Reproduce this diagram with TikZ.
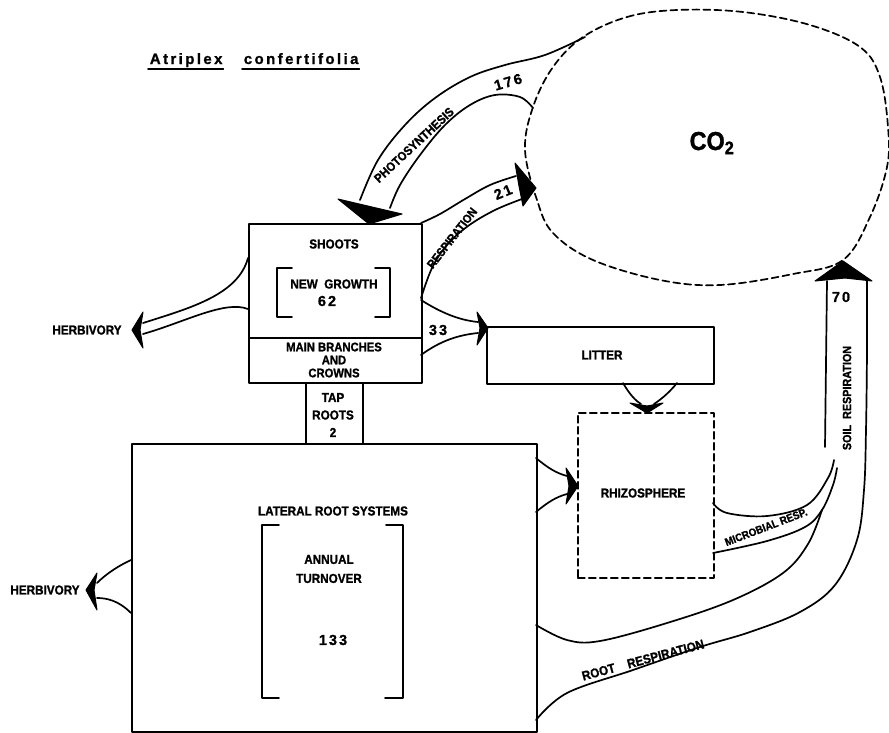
\documentclass[tikz,border=0pt]{standalone}
\usepackage{fontspec}
\setmainfont{Liberation Sans}
\newfontfamily\labfont{Liberation Sans Bold}[FakeStretch=0.9,FakeBold=1.2]
\newfontfamily\titlefont{Liberation Sans Bold}[LetterSpace=16,FakeBold=1]
\newfontfamily\numfont{Liberation Sans Bold}[LetterSpace=14,FakeBold=1]
\begin{document}
\begin{tikzpicture}[x=1pt,y=-1pt,line width=1.7pt,line join=round,line cap=round,
  lab/.style={font=\labfont\fontsize{13}{15}\selectfont,inner sep=0pt,align=center},
  num/.style={font=\numfont\fontsize{14.5}{15}\selectfont,inner sep=0pt},
  pool/.style={draw,inner sep=0pt,anchor=north west},
  dpool/.style={pool,dash pattern=on 7pt off 4pt},
  head/.style={fill=black,draw=black,line width=1pt},
  band/.style={line width=1.7pt}]
\useasboundingbox (0,0) rectangle (889,732);

% ---- title ----
\node[font=\titlefont\fontsize{15}{16}\selectfont,anchor=base west,inner sep=0pt] (gen) at (149,64) {Atriplex};
\node[font=\titlefont\fontsize{15}{16}\selectfont,anchor=base west,inner sep=0pt] (spec) at (243,64) {confertifolia};
\draw (gen.base west) ++(-1,5) coordinate (g1) -- (g1 -| gen.base east);
\draw (spec.base west) ++(-1,5) coordinate (s1) -- (s1 -| spec.base east);

% ---- compartments ----
\node[pool,minimum width=173pt,minimum height=114pt] (shoots) at (248,223) {};
\node[pool,minimum width=173pt,minimum height=45pt] (main) at (248,337) {};
\node[pool,minimum width=57pt,minimum height=61pt] (tap) at (305,382) {};
\node[pool,minimum width=405pt,minimum height=288pt] (lateral) at (131,443) {};
\node[pool,minimum width=227pt,minimum height=57pt] (litter) at (486,326) {};
\node[dpool,minimum width=136pt,minimum height=165pt] (rhizo) at (577,412) {};

% ---- CO2 pool ----
\draw[dash pattern=on 7pt off 4pt] plot[smooth cycle,tension=0.6] coordinates {
  (583,37) (627,17) (677,10) (743,12) (810,25) (860,47) (880,77) (888,127)
  (887,167) (870,217) (843,260) (793,274) (720,285) (660,280) (593,260)
  (553,233) (537,200) (525,150) (533,107) (553,67)};
\node[font=\labfont\fontsize{26}{27}\selectfont,inner sep=0pt] (co2) at (712,143) {CO\textsubscript{2}};

% ---- texts in compartments ----
\node[lab] (shootlbl) at (334,244) {SHOOTS};
\node[lab] (ngl) at (334,284) {NEW\ \ GROWTH};
\node[num] (ngv) at (327,301) {62};
\draw (292,268) -- (277,268) -- (277,317) -- (292,317);
\draw (375,268) -- (390,268) -- (390,317) -- (375,317);
\node[lab,font=\labfont\fontsize{12.5}{13}\selectfont] (mainlbl) at (334,360) {MAIN BRANCHES\\AND\\CROWNS};
\node[lab,font=\labfont\fontsize{13}{17.5}\selectfont] (taplbl) at (333,415) {TAP\\ROOTS\\2};
\node[lab] (latlbl) at (333,511) {LATERAL ROOT SYSTEMS};
\draw (279,525) -- (262,525) -- (262,698) -- (279,698);
\draw (386,525) -- (403,525) -- (403,698) -- (385,698);
\node[lab,font=\labfont\fontsize{13}{19}\selectfont] (turn) at (329,569) {ANNUAL\\TURNOVER};
\node[num] (turnv) at (333,640) {133};
\node[lab] (litlbl) at (602,355) {LITTER};
\node[lab] (rhizolbl) at (643,493) {RHIZOSPHERE};

% ---- photosynthesis 176 ----
\draw[band] plot[smooth,tension=0.6] coordinates {(585,37) (545,55) (505,65) (470,77) (435,98) (405,125) (378,160) (360,200)};
\draw[band] plot[smooth,tension=0.6] coordinates {(533,108) (520,97) (495,95) (470,105) (445,125) (420,155) (400,185) (390,208)};
\coordinate (ptip) at (369,224);
\fill[head] (338,199) -- (ptip) -- (402,214) -- (372,207) -- cycle;
\node[lab,rotate=43,font=\labfont\fontsize{12.5}{13}\selectfont] (photo) at (414,145) {PHOTOSYNTHESIS};
\node[num,rotate=16] (photov) at (508,82) {176};

% ---- respiration 21 ----
\draw[band] plot[smooth,tension=0.6] coordinates {(421,223) (440,214) (465,199) (490,185) (516,176)};
\draw[band] plot[smooth,tension=0.6] coordinates {(421,298) (432,268) (447,245) (468,226) (495,210) (522,199)};
\coordinate (rtip) at (536,188);
\fill[head] (515,163) -- (rtip) -- (523,206) -- (519,186) -- cycle;
\node[lab,rotate=52,font=\labfont\fontsize{12}{13}\selectfont] (resp) at (452,238) {RESPIRATION};
\node[num,rotate=22] (respv) at (503,192) {21};

% ---- litterfall 33 ----
\draw[band] (421,300) .. controls (440,312) and (458,320) .. (478,322);
\draw[band] (421,355) .. controls (440,341) and (458,335) .. (478,333);
\coordinate (ltip) at (488,328);
\fill[head] (477,312) -- (ltip) -- (477,345) -- (480,328) -- cycle;
\node[num] (litv) at (438,330) {33};

% ---- litter to rhizosphere ----
\draw[band] (623,383) .. controls (630,395) and (636,401) .. (641,404);
\draw[band] (677,383) .. controls (668,394) and (660,400) .. (654,404);
\coordinate (ltr) at (647,413);
\fill[head] (630,403) -- (647,406) -- (663,403) -- (ltr) -- cycle;

% ---- lateral roots to rhizosphere ----
\draw[band] (536,458) .. controls (548,468) and (556,473) .. (567,476);
\draw[band] (536,512) .. controls (548,502) and (556,497) .. (567,494);
\coordinate (rztip) at (578,486);
\fill[head] (566,468) -- (rztip) -- (566,504) -- (569,486) -- cycle;

% ---- herbivory of shoots ----
\draw[band] (248,258) .. controls (238,295) and (190,308) .. (143,323);
\draw[band] (248,309) .. controls (225,300) and (185,322) .. (143,334);
\coordinate (h1tip) at (132,330);
\fill[head] (143,312) -- (h1tip) -- (143,348) -- (140,330) -- cycle;
\node[lab] (herb1) at (87,330) {HERBIVORY};

% ---- herbivory of lateral roots ----
\draw[band] (131,560) .. controls (118,566) and (106,574) .. (97,583);
\draw[band] (131,613) .. controls (118,600) and (106,598) .. (97,598);
\coordinate (h2tip) at (86,590);
\fill[head] (97,573) -- (h2tip) -- (97,610) -- (94,590) -- cycle;
\node[lab] (herb2) at (45,590) {HERBIVORY};

% ---- soil respiration 70 ----
\draw[band] plot[smooth,tension=0.6] coordinates {(867,281) (867,350) (866,430) (864,490) (857,540) (835,585) (800,612) (750,632) (700,647) (633,670) (567,693) (536,720)};
\draw[band] (827,281) -- (825,447);
\draw[band] plot[smooth,tension=0.6] coordinates {(713,503) (727,513) (767,516) (807,505) (828,478) (834,460)};
\draw[band] plot[smooth,tension=0.6] coordinates {(713,553) (767,541) (805,527) (822,510) (833,485) (837,468)};
\draw[band] plot[smooth,tension=0.6] coordinates {(536,625) (567,640) (600,641) (667,623) (733,600) (783,573) (808,544) (822,510)};
\coordinate (stip) at (843,261);
\fill[head] (815,281) -- (stip) -- (872,281) -- (845,278) -- cycle;
\node[num] (soilv) at (841,297) {70};
\node[lab,rotate=90,font=\labfont\fontsize{12}{13}\selectfont] (soil) at (847,398) {SOIL\ \ RESPIRATION};
\node[lab,rotate=21,font=\labfont\fontsize{11}{12}\selectfont] (micro) at (766,527) {MICROBIAL RESP.};
\node[lab,rotate=15] (rootresp) at (643,660) {ROOT\ \ \ \ RESPIRATION};
\end{tikzpicture}
\end{document}
